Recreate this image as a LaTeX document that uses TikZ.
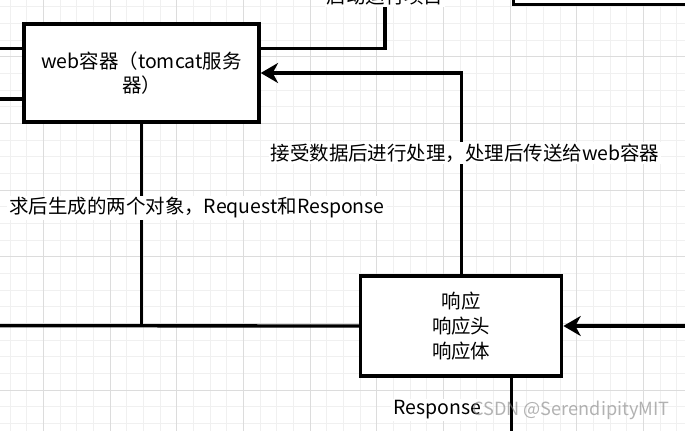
\documentclass[tikz,border=0pt]{standalone}
\usepackage{fontspec}
\setmainfont{Noto Sans CJK SC}
\usetikzlibrary{positioning, arrows.meta}
\definecolor{gridmajor}{HTML}{DCDCDC}
\definecolor{gridminor}{HTML}{F0F0F0}
\tikzset{
	x=0.75pt, y=-0.75pt, % one unit is one pixel of the screenshot, y grows downwards
	>={Stealth[length=13pt, width=15pt, inset=4pt]}, % draw.io style arrow heads
	every node/.style={font=\fontsize{14.6pt}{18.5pt}\selectfont},
	box/.style={draw, line width=2.5pt, fill=white, align=center, inner sep=0pt}, % the boxes
	wire/.style={line width=2.5pt}, % the connectors
	lbl/.style={fill=white, inner sep=1.5pt}, % labels that sit on a connector
}

\begin{document}
\begin{tikzpicture}
	\useasboundingbox (0,0) rectangle (685,431);
	\clip (0,0) rectangle (685,431);
	\fill[white] (0,0) rectangle (685,431);
	% background grid
	\foreach \gx in {0,...,41}
		\draw[gridminor] ({10+16.667*\gx},0) -- ({10+16.667*\gx},431);
	\foreach \gy in {0,...,25}
		\draw[gridminor] (0,{6.667+16.667*\gy}) -- (685,{6.667+16.667*\gy});
	\foreach \gx in {0,...,9}
		\draw[gridmajor] ({43.333+66.667*\gx},0) -- ({43.333+66.667*\gx},431);
	\foreach \gy in {1,...,6}
		\draw[gridmajor] (0,{-10+66.667*\gy}) -- (685,{-10+66.667*\gy});

	\node[box, minimum width=176.3pt, minimum height=73.5pt] (web) at (141.5,73) {web容器（tomcat服务\\器）};
	\node[box, minimum width=150.75pt, minimum height=75pt] (resp) at (461.2,326) {响应\\响应头\\响应体};
	\node[box, anchor=south west, minimum width=150pt, minimum height=30pt] (top) at (511.7,6) {};
	\node[lbl, anchor=south] (start) at (385,7) {启动运行项目};

	\coordinate (inA) at (0,48.3);
	\coordinate (inB) at (0,99);
	\coordinate (reqin) at (0,325.7);
	\coordinate (respin) at (690,326);
	\coordinate (respout) at (511.7,440);

	\draw[wire] (inA) -- (inA -| web.west);
	\draw[wire] (inB) -- (inB -| web.west);
	\draw[wire] (inA -| web.east) -| (start.south);
	\draw[wire, ->] (resp.north) |- (web.east);
	\draw[wire] (web.south) -- (web.south |- reqin);
	\draw[wire] (reqin) -- (resp.west);
	\draw[wire, ->] (respin) -- (resp.east);
	\draw[wire] (resp.south -| respout) -- (respout);

	\node[lbl] (procl) at (465,153) {接受数据后进行处理，处理后传送给web容器};
	\node[lbl, anchor=east] (reql) at (387,208) {求后生成的两个对象，Request和Response};
	\node[lbl, anchor=west] (respl) at (391,410) {Response};
	\node[anchor=west, text=gray, text opacity=0.6, inner sep=0pt, font=\fontsize{13.6pt}{16pt}\selectfont] (mark) at (472,410) {CSDN @SerendipityMIT};
\end{tikzpicture}
\end{document}
